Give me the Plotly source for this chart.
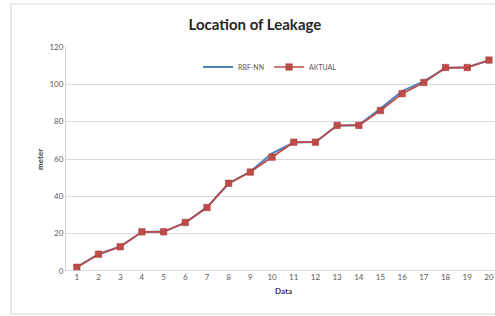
import plotly.graph_objects as go

data_idx = list(range(1, 21))
aktual = [2, 9, 13, 21, 21, 26, 34, 47, 53, 61, 69, 69, 78, 78, 86, 95, 101, 109, 109, 113]
rbf_nn = [2.1, 9.0, 13.1, 20.9, 21.1, 25.8, 34.2, 46.8, 53.3, 63.0, 68.8, 69.1, 77.8, 78.2, 87.0, 96.4, 101.6, 108.7, 109.2, 112.7]
y_ticks = [0, 20, 40, 60, 80, 100, 120]

W, H = 495, 316
L, R, T, B = 66, 0, 47, 45
pw = W - L - R
ph = H - T - B

def px_x(x):
    return (x - L) / pw

def px_y(y):
    return (H - B - y) / ph

fig = go.Figure()
fig.add_trace(go.Scatter(x=data_idx, y=rbf_nn, mode="lines", name="RBF-NN",
                         line=dict(color="#4F81BD", width=2), cliponaxis=False))
fig.add_trace(go.Scatter(x=data_idx, y=aktual, mode="lines+markers", name="AKTUAL",
                         line=dict(color="#BE4B48", width=1.7), cliponaxis=False,
                         marker=dict(symbol="square", size=6.5, color="#BE4B48",
                                     line=dict(color="#A03C3A", width=0.5))))

fig.update_layout(
    width=W, height=H,
    margin=dict(l=L, r=R, t=T, b=B, autoexpand=False),
    paper_bgcolor="white", plot_bgcolor="white",
    font=dict(family="Lato, Open Sans, sans-serif", color="#595959", size=8),
    title=dict(text="<b>Location of Leakage</b>", x=0.515, xanchor="center",
               y=1 - 25 / H, yanchor="middle",
               font=dict(size=15, color="#262626", family="Lato, Open Sans, sans-serif")),
    showlegend=True,
    legend=dict(orientation="h", x=px_x(270), xanchor="center", y=px_y(67), yanchor="middle",
                font=dict(size=7, color="#595959"), bgcolor="rgba(0,0,0,0)",
                itemwidth=30, tracegroupgap=0),
    xaxis=dict(range=[0.5, 20.28], tickmode="array", tickvals=data_idx,
               ticktext=[str(i) for i in data_idx], showgrid=False, zeroline=False,
               showline=False, ticks="", automargin=False,
               tickfont=dict(size=8, color="#595959")),
    yaxis=dict(range=[0, 120], tickvals=y_ticks, showgrid=True, gridcolor="#D9D9D9",
               gridwidth=1.3, zeroline=False, showline=True, linecolor="#D0D0D0",
               linewidth=1.2, ticks="", automargin=False,
               tickfont=dict(size=8, color="#595959")),
)

# outer chart frame
fig.add_shape(type="rect", xref="paper", yref="paper",
              x0=px_x(11), x1=px_x(520), y0=px_y(314), y1=px_y(4),
              line=dict(color="#D9D9D9", width=1.2), layer="below")
# x-axis baseline
fig.add_shape(type="line", xref="paper", yref="y", x0=0, x1=1, y0=0, y1=0,
              line=dict(color="#D0D0D0", width=1.5))

fig.add_annotation(text="<b>meter</b>", xref="paper", yref="paper", x=px_x(33), y=px_y(160),
                   textangle=-90, showarrow=False, font=dict(size=8, color="#404040"))
fig.add_annotation(text="<b>Data</b>", xref="paper", yref="paper", x=px_x(283), y=px_y(298),
                   showarrow=False, font=dict(size=8, color="#404040"))

fig.write_html("out.html", config={"displayModeBar": False},
               post_script="document.body.style.margin='0';document.body.style.overflow='hidden';")
